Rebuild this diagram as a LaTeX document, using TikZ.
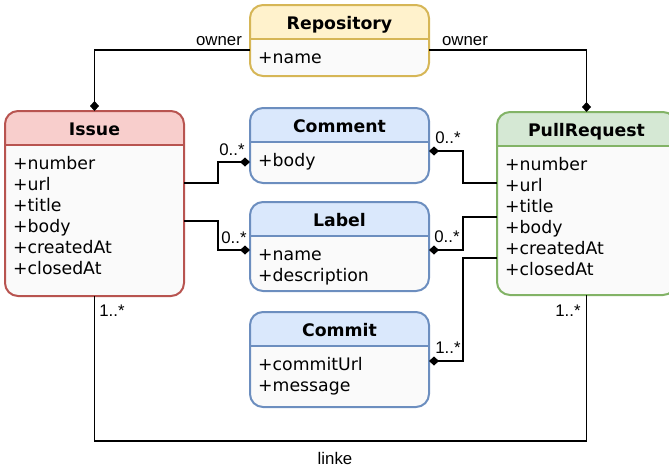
\documentclass[tikz,border=0pt]{standalone}
\usepackage{fontspec}
\setmainfont{DejaVu Sans}
\newfontfamily\labelfont{Liberation Sans}
\usetikzlibrary{arrows.meta,positioning,calc}
\definecolor{yfill}{HTML}{FFF2CC}
\definecolor{ydraw}{HTML}{D6B656}
\definecolor{rfill}{HTML}{F8CECC}
\definecolor{rdraw}{HTML}{B85450}
\definecolor{bfill}{HTML}{DAE8FC}
\definecolor{bdraw}{HTML}{6C8EBF}
\definecolor{gfill}{HTML}{D5E8D4}
\definecolor{gdraw}{HTML}{82B366}
\definecolor{bodyfill}{HTML}{FAFAFA}

\tikzset{
    classbox/.style 2 args={rectangle, draw=#1, fill=bodyfill, line width=2pt,
        rounded corners=13pt, anchor=north west, inner sep=0pt, outer sep=0pt,
        minimum width=179pt,
        path picture={
            \fill[#2, sharp corners] (path picture bounding box.north west)
                rectangle ([yshift=-34pt]path picture bounding box.north east);
            \draw[#1, line width=2pt, sharp corners]
                ([yshift=-34pt]path picture bounding box.north west)
                -- ([yshift=-34pt]path picture bounding box.north east);
        }},
    classname/.style={anchor=base, inner sep=0pt, font=\bfseries\fontsize{17.3}{21}\selectfont},
    attrs/.style={anchor=north west, inner sep=0pt, align=left, font=\fontsize{17.3}{21}\selectfont},
    mult/.style={inner sep=0pt, font=\labelfont\fontsize{16.8}{20}\selectfont},
    assoc/.style={line width=1.3pt, -{Diamond[length=10pt,width=9pt]}},
    link/.style={line width=1.3pt},
}

\begin{document}
\begin{tikzpicture}[x=1pt, y=-1pt]
    \useasboundingbox (0,0) rectangle (669,469);
    \clip (0,0) rectangle (669,469);

    % classes
    \node[classbox={ydraw}{yfill}, minimum height=71pt] (repo) at (250,5) {};
    \node[classname] at ([yshift=-24.5pt]repo.north) {Repository};
    \node[attrs] at ([xshift=8pt,yshift=-44pt]repo.north west) {\strut+name};

    \node[classbox={rdraw}{rfill}, minimum height=185pt] (issue) at (5,111) {};
    \node[classname] at ([yshift=-24.5pt]issue.north) {Issue};
    \node[attrs] at ([xshift=8pt,yshift=-44pt]issue.north west)
        {\strut+number\\+url\\+title\\+body\\+createdAt\\+closedAt};

    \node[classbox={bdraw}{bfill}, minimum height=75pt] (comment) at (250,108) {};
    \node[classname] at ([yshift=-24.5pt]comment.north) {Comment};
    \node[attrs] at ([xshift=8pt,yshift=-44pt]comment.north west) {\strut+body};

    \node[classbox={bdraw}{bfill}, minimum height=89pt] (label) at (250,202) {};
    \node[classname] at ([yshift=-24.5pt]label.north) {Label};
    \node[attrs] at ([xshift=8pt,yshift=-44pt]label.north west)
        {\strut+name\\+description};

    \node[classbox={bdraw}{bfill}, minimum height=95pt] (commit) at (250,312) {};
    \node[classname] at ([yshift=-24.5pt]commit.north) {Commit};
    \node[attrs] at ([xshift=8pt,yshift=-44pt]commit.north west)
        {\strut+commitUrl\\+message};

    \node[classbox={gdraw}{gfill}, minimum height=183pt] (pr) at (497,112) {};
    \node[classname] at ([yshift=-24.5pt]pr.north) {PullRequest};
    \node[attrs] at ([xshift=8pt,yshift=-44pt]pr.north west)
        {\strut+number\\+url\\+title\\+body\\+createdAt\\+closedAt};

    % associations
    \draw[assoc] ([yshift=-45pt]repo.north west) -| (issue.north);
    \draw[assoc] ([yshift=-45pt]repo.north east) -| (pr.north);
    \draw[assoc] ([yshift=-72pt]issue.north east) -- ++(34,0) |- ([yshift=-54pt]comment.north west);
    \draw[assoc] ([yshift=-110pt]issue.north east) -- ++(34,0) |- ([yshift=-48pt]label.north west);
    \draw[assoc] ([yshift=-71pt]pr.north west) -- ++(-34,0) |- ([yshift=-43pt]comment.north east);
    \draw[assoc] ([yshift=-105pt]pr.north west) -- ++(-34,0) |- ([yshift=-48pt]label.north east);
    \draw[assoc] ([yshift=-146pt]pr.north west) -- ++(-34,0) |- ([yshift=-49pt]commit.north east);
    \draw[link] (issue.south) -- ++(0,145) -| (pr.south);

    % multiplicities and roles
    \node[mult] at (219,41) {owner};
    \node[mult] at (465,41) {owner};
    \node[mult] at (232,150) {0..*};
    \node[mult] at (234,238) {0..*};
    \node[mult] at (448,138) {0..*};
    \node[mult] at (447,237) {0..*};
    \node[mult] at (448,348) {1..*};
    \node[mult] at (112,311) {1..*};
    \node[mult] at (568,311) {1..*};
    \node[mult] at (335,458) {linke};
\end{tikzpicture}
\end{document}
